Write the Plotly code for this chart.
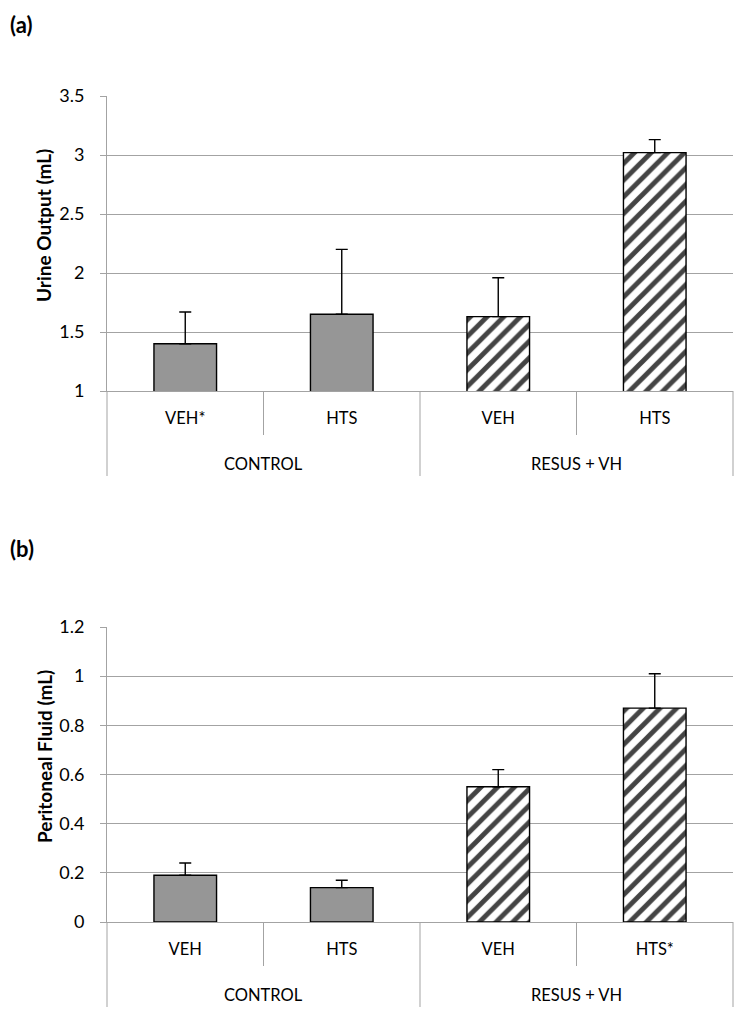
import plotly.graph_objects as go

# ---------------- data ----------------
groups = ["CONTROL", "CONTROL", "RESUS + VH", "RESUS + VH"]
labels_a = ["VEH*", "HTS", "VEH", "HTS"]
labels_b = ["VEH", "HTS", "VEH", "HTS*"]
urine = [1.40, 1.65, 1.63, 3.02]
urine_err = [0.27, 0.55, 0.33, 0.11]
perit = [0.19, 0.14, 0.55, 0.87]
perit_err = [0.05, 0.03, 0.07, 0.14]
ytitle_a = "Urine Output (mL)"
ytitle_b = "Peritoneal Fluid (mL)"
panel_a = "(a)"
panel_b = "(b)"

# ---------------- style ----------------
FONT = "Lato"
GRID = "#a3a3a3"
GREY_BAR = "#969696"
bar_colors = [GREY_BAR if g == "CONTROL" else "white" for g in groups]
bar_patterns = ["" if g == "CONTROL" else "/" for g in groups]

OFF = 8                      # page body margin of the html page
W, H = 743 - 2 * OFF, 1015 - 2 * OFF
# plot area in page pixels: x 107..733, panel a y 96..391, panel b y 627..922
ML = 107 - OFF
MR = W - (733 - OFF)
MT = 96 - OFF
MB = H - (922 - OFF)
PLOT_H = H - MT - MB
PANEL_PX = 295
dom_a = [1 - PANEL_PX / PLOT_H, 1]
dom_b = [0, PANEL_PX / PLOT_H]

x_idx = list(range(len(groups)))
n = len(groups)


def bar_trace(vals, errs, xa, ya):
    return go.Bar(
        x=x_idx, y=vals, xaxis=xa, yaxis=ya, width=0.4,
        marker=dict(
            color=bar_colors,
            line=dict(color="black", width=1.4),
            pattern=dict(shape=bar_patterns, fgcolor="black", bgcolor="white",
                         fgopacity=1, size=11.8, solidity=0.42),
        ),
        error_y=dict(type="data", symmetric=False, array=errs,
                     arrayminus=[0] * len(errs), color="black",
                     thickness=1.4, width=6),
        showlegend=False, hoverinfo="skip",
    )


fig = go.Figure()
fig.add_trace(bar_trace(urine, urine_err, "x", "y"))
fig.add_trace(bar_trace(perit, perit_err, "x2", "y2"))

catfont = dict(family=FONT, size=16.5, color="black")
tickfont = dict(family=FONT, size=18, color="black")

xcommon = dict(range=[-0.5, n - 0.5], tickvals=x_idx, showgrid=False,
               zeroline=False, showline=True, linecolor=GRID, linewidth=1,
               ticks="", ticklabelstandoff=12, tickfont=catfont, fixedrange=True)
ycommon = dict(showgrid=True, gridcolor=GRID, gridwidth=1, zeroline=False,
               showline=True, linecolor=GRID, linewidth=1, ticks="outside",
               ticklen=6, tickcolor=GRID, tickwidth=1, ticklabelstandoff=12,
               tickfont=tickfont, fixedrange=True)

fig.update_layout(
    width=W, height=H,
    margin=dict(l=ML, r=MR, t=MT, b=MB, pad=0),
    paper_bgcolor="white", plot_bgcolor="white",
    font=dict(family=FONT, color="black"),
    xaxis=dict(domain=[0, 1], anchor="y", ticktext=labels_a, **xcommon),
    yaxis=dict(domain=dom_a, anchor="x", range=[1, 3.5], dtick=0.5, tick0=1, **ycommon),
    xaxis2=dict(domain=[0, 1], anchor="y2", ticktext=labels_b, **xcommon),
    yaxis2=dict(domain=dom_b, anchor="x2", range=[0, 1.2], dtick=0.2, tick0=0, **ycommon),
)

# category dividers (short between categories, long between groups)
SHORT = 44 / PANEL_PX
LONG = 85 / PANEL_PX
shapes = []
for xa, ya in [("x", "y"), ("x2", "y2")]:
    for k in range(n + 1):
        is_group = k == 0 or k == n or groups[k - 1] != groups[k]
        shapes.append(dict(type="line", xref=f"{xa} domain", yref=f"{ya} domain",
                           x0=k / n, x1=k / n, y0=0, y1=-(LONG if is_group else SHORT),
                           line=dict(color=GRID, width=1)))
fig.update_layout(shapes=shapes)

ann = []
uniq = []
for g in groups:
    if g not in uniq:
        uniq.append(g)
for xa, ya in [("x", "y"), ("x2", "y2")]:
    for g in uniq:
        idx = [i for i, gg in enumerate(groups) if gg == g]
        ann.append(dict(xref=xa, yref=f"{ya} domain", x=sum(idx) / len(idx),
                        y=-73 / PANEL_PX, text=g, showarrow=False,
                        xanchor="center", yanchor="middle", font=catfont))


def px_to_paper_x(px):
    return (px - OFF - ML) / (W - ML - MR)


def px_to_paper_y(py):
    return (H - MB - (py - OFF)) / PLOT_H


title_font = dict(family=FONT, size=19, color="black")
ann.append(dict(xref="paper", yref="paper", x=px_to_paper_x(44), y=px_to_paper_y(226),
                text=f"<b>{ytitle_a}</b>", textangle=-90, showarrow=False,
                xanchor="center", yanchor="middle", font=title_font))
ann.append(dict(xref="paper", yref="paper", x=px_to_paper_x(44), y=px_to_paper_y(757),
                text=f"<b>{ytitle_b}</b>", textangle=-90, showarrow=False,
                xanchor="center", yanchor="middle", font=title_font))
letter_font = dict(family=FONT, size=22, color="black")
ann.append(dict(xref="paper", yref="paper", x=px_to_paper_x(8), y=px_to_paper_y(9),
                text=f"<b>{panel_a}</b>", showarrow=False, xanchor="left",
                yanchor="top", font=letter_font))
ann.append(dict(xref="paper", yref="paper", x=px_to_paper_x(8), y=px_to_paper_y(548),
                text=f"<b>{panel_b}</b>", showarrow=False, xanchor="left",
                yanchor="middle", font=letter_font))
fig.update_layout(annotations=ann)

fig.write_html("out.html")
